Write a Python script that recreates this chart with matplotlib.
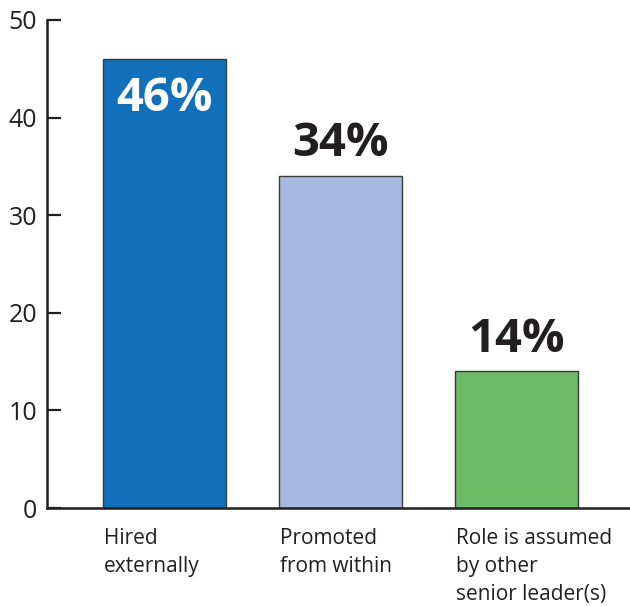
import matplotlib
matplotlib.use("Agg")
import matplotlib.pyplot as plt

categories = ["Hired\nexternally", "Promoted\nfrom within", "Role is assumed\nby other\nsenior leader(s)"]
values = [46, 34, 14]
bar_colors = ["#1170b9", "#a6b9e0", "#6dba67"]
value_label_colors = ["white", "#231f20", "#231f20"]
yticks = [0, 10, 20, 30, 40, 50]

plt.rcParams["font.family"] = ["Open Sans", "DejaVu Sans"]
ink = "#231f20"

fig = plt.figure(figsize=(6.30, 6.06), dpi=100)
ax = fig.add_axes([0.0746, 0.1617, 0.9254, 0.8053])

x = list(range(len(values)))
width = 0.70
bars = ax.bar(x, values, width=width, color=bar_colors, edgecolor="#3a3a3a", linewidth=1.0, zorder=2)

ax.set_xlim(-0.668, 2.645)
ax.set_ylim(0, 50)
ax.set_yticks(yticks)
ax.set_xticks([])

for side in ("top", "right"):
    ax.spines[side].set_visible(False)
for side in ("left", "bottom"):
    ax.spines[side].set_linewidth(1.8)
    ax.spines[side].set_color(ink)

ax.tick_params(axis="y", direction="in", length=10, width=1.6, color=ink,
               labelsize=18, labelcolor=ink, pad=7)

# value labels: inside the tallest bar, above the others
for xi, v, c in zip(x, values, value_label_colors):
    if c == "white":
        ax.text(xi, v - 1.6, f"{v}%", ha="center", va="top", fontsize=34,
                fontweight="bold", color=c, zorder=3)
    else:
        ax.text(xi, v + 0.9, f"{v}%", ha="center", va="bottom", fontsize=34,
                fontweight="bold", color=c, zorder=3)

# category labels, left-aligned under each bar
for xi, lab in zip(x, categories):
    ax.text(xi - width / 2 + 0.005, -2.0, lab, ha="left", va="top", fontsize=15,
            color=ink, linespacing=1.45, transform=ax.transData, clip_on=False)

fig.savefig("out.png", dpi=100)
